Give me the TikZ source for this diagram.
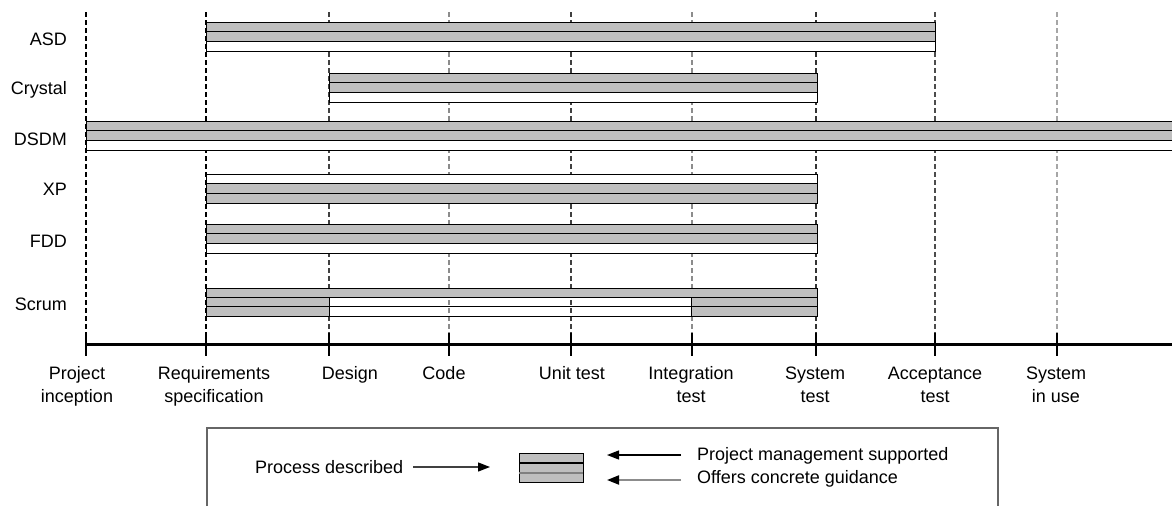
\documentclass[tikz,border=0pt]{standalone}
\usepackage{fontspec}
\setmainfont{Liberation Sans}
\usetikzlibrary{arrows.meta}
\definecolor{barfill}{gray}{0.75}
\definecolor{sepgray}{gray}{0.5}

\tikzset{
  phase/.style={dash pattern=on 5pt off 3pt, line width=1.2pt},
  tick/.style={line width=2.6pt},
  stripline/.style={line width=0.9pt},
  rowlabel/.style={anchor=base east, inner sep=0pt, font=\fontsize{18}{23}\selectfont},
  phaselabel/.style={anchor=base, align=center, inner sep=0pt, font=\fontsize{18}{23}\selectfont},
  legtext/.style={anchor=base west, inner sep=0pt, font=\fontsize{18}{23}\selectfont},
  legarrow/.style={line width=1.3pt, -{Triangle[length=12pt,width=9pt,color=black]}},
}

\begin{document}
\begin{tikzpicture}[x=1pt,y=-1pt]
	\useasboundingbox (0,0) rectangle (1172,506);
	% phases of the life cycle
	\foreach \x/\c in {86/black,206/black,329/black!75,449/black!45,571/black!75,692/black!45,816/black!80,935/black!70,1057/black!35}
		\draw [phase,\c] (\x,12) -- (\x,344);
	\draw [line width=3pt] (86,344) -- (1172,344);
	\foreach \x/\lx/\ly/\name/\txt in {86/77/402.5/pinc/{Project\\inception},206/214/402.5/preq/{Requirements\\specification},329/350/379.5/pdes/{Design},449/444/379.5/pcod/{Code},571/572/379.5/punit/{Unit test},692/691/402.5/pint/{Integration\\test},816/815/402.5/psys/{System\\test},935/935/402.5/pacc/{Acceptance\\test},1057/1056/402.5/puse/{System\\in use}}
	{
		\draw [tick] (\x,333) -- (\x,356);
		\node [phaselabel] (\name) at (\lx,\ly) {\txt};
	}
	% methods
	\node [rowlabel] (asd) at (67,45.5) {ASD};
	\node [rowlabel] (crystal) at (67,94.5) {Crystal};
	\node [rowlabel] (dsdm) at (67,145.5) {DSDM};
	\node [rowlabel] (xp) at (67,195.5) {XP};
	\node [rowlabel] (fdd) at (67,247.5) {FDD};
	\node [rowlabel] (scrum) at (67,310.5) {Scrum};
	\foreach \xa/\xb/\y/\ca/\cb/\cc in {206/935/22/barfill/barfill/white,329/817/73/barfill/barfill/white,86/1172/121/barfill/barfill/white,206/817/174/white/barfill/barfill,206/817/224/barfill/barfill/white}
	{
		\fill [\ca] (\xa,\y) rectangle (\xb,{\y+9.67});
		\fill [\cb] (\xa,{\y+9.67}) rectangle (\xb,{\y+19.33});
		\fill [\cc] (\xa,{\y+19.33}) rectangle (\xb,{\y+29});
		\draw [stripline] (\xa,\y) rectangle (\xb,{\y+29});
		\draw [stripline] (\xa,{\y+9.67}) -- (\xb,{\y+9.67});
		\draw [stripline] (\xa,{\y+19.33}) -- (\xb,{\y+19.33});
	}
	\fill [barfill] (206,288) rectangle (817,297.67);
	\fill [barfill] (206,297.67) rectangle (329,316);
	\fill [barfill] (691,297.67) rectangle (817,316);
	\draw [stripline] (206,288) rectangle (817,316);
	\draw [stripline] (206,297.67) -- (817,297.67);
	\draw [stripline] (206,306.33) -- (817,306.33);
	\draw [stripline] (329,297.67) -- (329,316);
	\draw [stripline] (691,297.67) -- (691,316);
	% legend
	\draw [line width=1.5pt, black!60] (207,506) -- (207,428) -- (998,428) -- (998,506);
	\node [draw, stripline, fill=barfill, minimum width=64pt, minimum height=29pt, inner sep=0pt] (legbar) at (551,467.5) {};
	\draw [line width=1.2pt] (519,463) -- (583,463);
	\draw [line width=1.2pt, sepgray] (519,473) -- (583,473);
	\node [legtext] (procdesc) at (255,473.5) {Process described};
	\node [legtext] (pmtext) at (697,460.5) {Project management supported};
	\node [legtext] (guidtext) at (697,483.5) {Offers concrete guidance};
	\coordinate (pdtip) at (490,467);
	\coordinate (pmtip) at (607,455);
	\coordinate (guidtip) at (607,480);
	\draw [legarrow, black!75] (procdesc.east |- pdtip) ++(10,0) -- (pdtip);
	\draw [legarrow] (pmtext.west |- pmtip) ++(-16,0) -- (pmtip);
	\draw [legarrow, black!45, line width=2pt] (guidtext.west |- guidtip) ++(-16,0) -- (guidtip);
\end{tikzpicture}
\end{document}
